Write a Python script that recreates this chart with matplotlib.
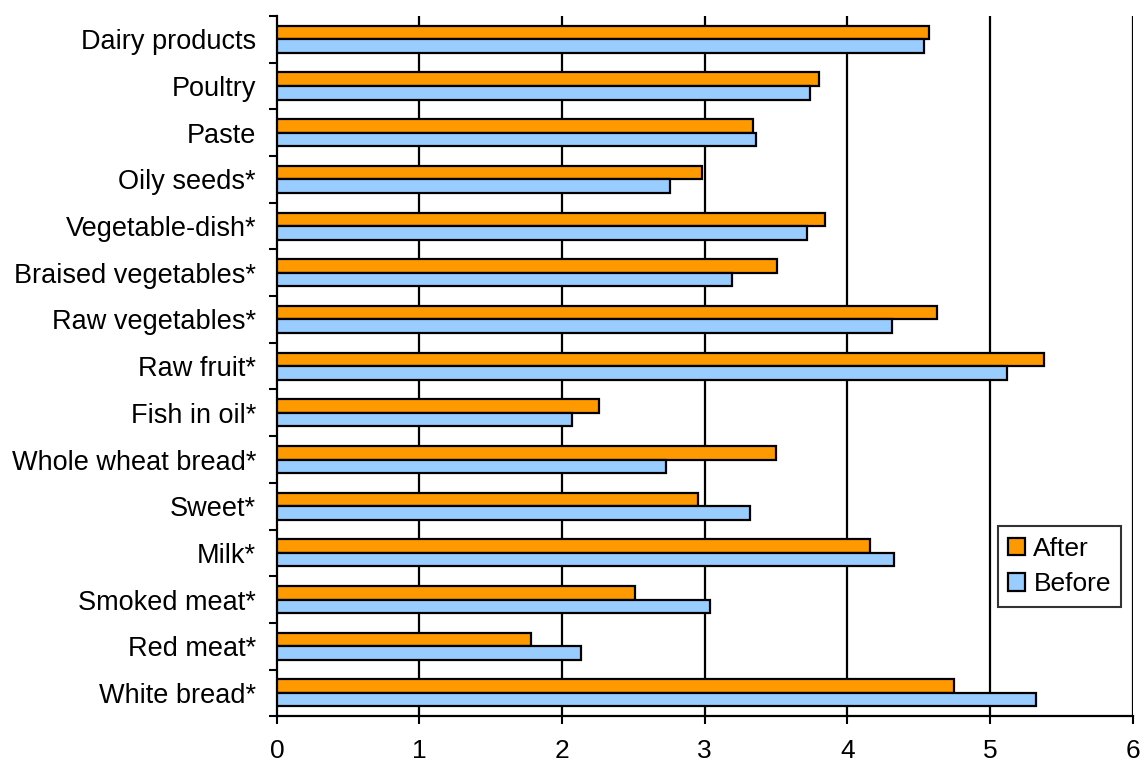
import matplotlib
matplotlib.use('Agg')
import matplotlib.pyplot as plt
import numpy as np

plt.rcParams['font.family'] = ['Liberation Sans', 'DejaVu Sans']

# categories listed top to bottom
categories = ['Dairy products', 'Poultry', 'Paste', 'Oily seeds*', 'Vegetable-dish*',
              'Braised vegetables*', 'Raw vegetables*', 'Raw fruit*', 'Fish in oil*',
              'Whole wheat bread*', 'Sweet*', 'Milk*', 'Smoked meat*', 'Red meat*',
              'White bread*']
after = [4.57, 3.80, 3.34, 2.98, 3.84, 3.51, 4.63, 5.38, 2.26, 3.50, 2.95, 4.16, 2.51, 1.78, 4.75]
before = [4.54, 3.74, 3.36, 2.76, 3.72, 3.19, 4.31, 5.12, 2.07, 2.73, 3.32, 4.33, 3.04, 2.13, 5.32]

fig = plt.figure(figsize=(11.44, 7.62), dpi=100)
ax = fig.add_axes([0.242, 0.060, 0.748, 0.919])

n = len(categories)
y = np.arange(n)[::-1]
h = 0.29

ax.barh(y + h / 2, after, h, color='#FF9900', edgecolor='black', linewidth=1.6, label='After', zorder=3)
ax.barh(y - h / 2, before, h, color='#99CCFF', edgecolor='black', linewidth=1.6, label='Before', zorder=3)

ax.set_xlim(0, 6)
ax.set_ylim(-0.5, n - 0.5)
ax.set_xticks(range(7))
ax.tick_params(axis='x', labelsize=19, length=6, width=1.5, pad=10)
for gx in range(1, 7):
    ax.axvline(gx, color='black', linewidth=1.6, zorder=1)

ax.set_yticks(y)
ax.set_yticklabels(categories, fontsize=19.5)
ax.tick_params(axis='y', length=0, pad=15)
ax.set_yticks(np.arange(n + 1) - 0.5, minor=True)
ax.tick_params(axis='y', which='minor', length=6, width=1.5)

for s in ['top', 'right']:
    ax.spines[s].set_visible(False)
for s in ['left', 'bottom']:
    ax.spines[s].set_linewidth(1.6)

leg = ax.legend(loc='lower right', bbox_to_anchor=(0.987, 0.156), fontsize=19, frameon=True,
                fancybox=False, edgecolor='black', handlelength=0.65, handleheight=0.65,
                handletextpad=0.3, borderpad=0.4, labelspacing=0.45, borderaxespad=0)
leg.get_frame().set_linewidth(1.5)
leg.set_zorder(5)

fig.savefig('out.png', dpi=100)
